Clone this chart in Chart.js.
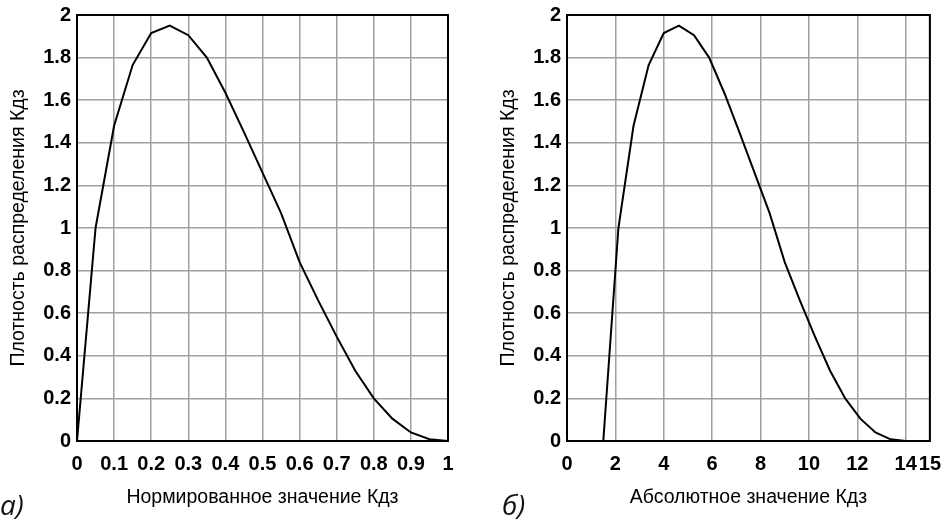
<!DOCTYPE html>
<html>
<head>
<meta charset="utf-8">
<script src="https://cdn.jsdelivr.net/npm/chart.js@4"></script>
<style>
body { margin: 0; background: #fff; }
.panel { position: absolute; top: 0; width: 476px; height: 521px; }
.tag { position: absolute; top: 490px; font: italic 28px 'Open Sans', sans-serif; line-height: 28px; color: #111; }
</style>
</head>
<body>
<div class="panel" style="left:0"><canvas id="chartA" width="476" height="521"></canvas></div>
<div class="panel" style="left:476px"><canvas id="chartB" width="476" height="521"></canvas></div>
<div class="tag" style="left:0px">а)</div>
<div class="tag" style="left:502px">б)</div>
<script>
// values
var xNorm = [0, 0.05, 0.1, 0.15, 0.2, 0.25, 0.3, 0.35, 0.4, 0.45, 0.5, 0.55, 0.6, 0.65, 0.7, 0.75, 0.8, 0.85, 0.9, 0.95, 1];
var xAbs = [1.5, 2.125, 2.75, 3.375, 4, 4.625, 5.25, 5.875, 6.5, 7.125, 7.75, 8.375, 9, 9.625, 10.25, 10.875, 11.5, 12.125, 12.75, 13.375, 14];
var density = [0, 1.00, 1.48, 1.765, 1.915, 1.95, 1.905, 1.80, 1.635, 1.45, 1.26, 1.07, 0.84, 0.66, 0.49, 0.33, 0.20, 0.105, 0.04, 0.008, 0];

var xTicksA = [0, 0.1, 0.2, 0.3, 0.4, 0.5, 0.6, 0.7, 0.8, 0.9, 1];
var xLabelsA = ['0', '0.1', '0.2', '0.3', '0.4', '0.5', '0.6', '0.7', '0.8', '0.9', '1'];
var xTicksB = [0, 2, 4, 6, 8, 10, 12, 14, 15];
var xLabelsB = ['0', '2', '4', '6', '8', '10', '12', '14', '15'];
var yTicks = [0, 0.2, 0.4, 0.6, 0.8, 1, 1.2, 1.4, 1.6, 1.8, 2];
var yLabels = ['0', '0.2', '0.4', '0.6', '0.8', '1', '1.2', '1.4', '1.6', '1.8', '2'];

var yTitle = 'Плотность распределения Кдз';
var xTitleA = 'Нормированное значение Кдз';
var xTitleB = 'Абсолютное значение Кдз';

var tickFont = { family: "'Liberation Sans', Arial, sans-serif", size: 20, weight: 'bold' };
var titleFont = { family: "'Liberation Sans', Arial, sans-serif", size: 19.5 };

var framePlugin = {
    id: 'frame',
    beforeDatasetsDraw: function(chart) {
        var a = chart.chartArea;
        var c = chart.ctx;
        c.save();
        c.strokeStyle = '#000';
        c.lineWidth = 2;
        c.strokeRect(a.left, a.top, a.right - a.left, a.bottom - a.top);
        c.restore();
    }
};

function points(xs, ys) {
    return xs.map(function(x, i) { return { x: x, y: ys[i] }; });
}

function makeChart(id, xs, xTicks, xLabels, xMax, xTitle, yWidth, yTitlePad, rightPad) {
    return new Chart(document.getElementById(id), {
        type: 'line',
        data: {
            datasets: [{
                data: points(xs, density),
                borderColor: '#000',
                borderWidth: 2,
                pointRadius: 0,
                tension: 0,
                fill: false
            }]
        },
        options: {
            responsive: false,
            animation: false,
            devicePixelRatio: 1,
            layout: { padding: { top: 15, right: rightPad, left: 0, bottom: 0 } },
            plugins: { legend: { display: false }, tooltip: { enabled: false } },
            scales: {
                x: {
                    type: 'linear',
                    min: 0,
                    max: xMax,
                    afterBuildTicks: function(s) { s.ticks = xTicks.map(function(v) { return { value: v }; }); },
                    afterFit: function(s) { s.height = 80; },
                    ticks: {
                        autoSkip: false,
                        maxRotation: 0,
                        padding: 11,
                        color: '#000',
                        font: tickFont,
                        callback: function(v) { var i = xTicks.indexOf(v); return i < 0 ? '' : xLabels[i]; }
                    },
                    grid: { color: '#a0a0a0', lineWidth: 1.5, drawTicks: false },
                    border: { display: false },
                    title: { display: true, text: xTitle, color: '#000', font: titleFont, padding: { top: 0, bottom: 12 } }
                },
                y: {
                    type: 'linear',
                    min: 0,
                    max: 2,
                    afterBuildTicks: function(s) { s.ticks = yTicks.map(function(v) { return { value: v }; }); },
                    afterFit: function(s) { s.width = yWidth; s.paddingTop = 0; s.paddingBottom = 0; },
                    ticks: {
                        padding: 6,
                        color: '#000',
                        font: tickFont,
                        callback: function(v) { var i = yTicks.indexOf(v); return i < 0 ? '' : yLabels[i]; }
                    },
                    grid: { color: '#a0a0a0', lineWidth: 1.5, drawTicks: false },
                    border: { display: false },
                    title: { display: true, text: yTitle, color: '#000', font: titleFont, padding: { top: yTitlePad, bottom: 0 } }
                }
            }
        },
        plugins: [framePlugin]
    });
}

makeChart('chartA', xNorm, xTicksA, xLabelsA, 1, xTitleA, 77, 7, 28);
makeChart('chartB', xAbs, xTicksB, xLabelsB, 15, xTitleB, 91, 21, 12);
</script>
</body>
</html>
